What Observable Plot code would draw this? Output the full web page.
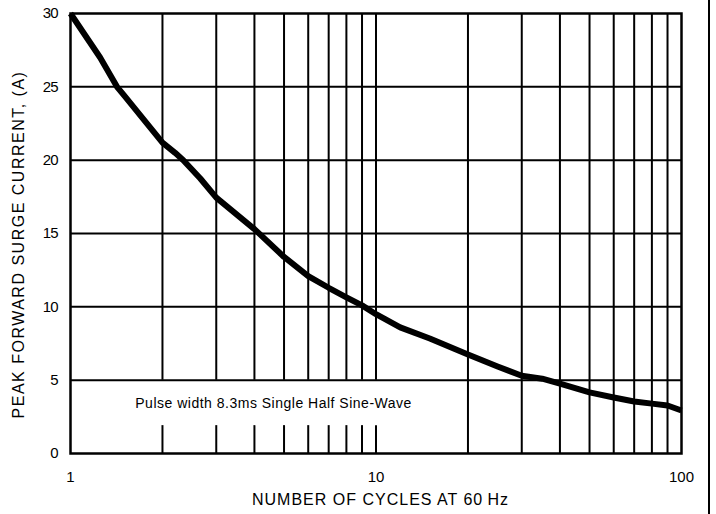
<!DOCTYPE html>
<html>
<head>
<meta charset="utf-8">
<script src="https://cdn.jsdelivr.net/npm/d3@7"></script>
<script src="https://cdn.jsdelivr.net/npm/@observablehq/plot@0.6"></script>
<style>
  body { margin: 0; background: #fff; }
  #wrap { position: relative; width: 716px; height: 514px; }
  #edge { position: absolute; left: 708px; top: 0; width: 2px; height: 514px; background: #000; }
</style>
</head>
<body>
<div id="wrap"><div id="chart"></div><div id="edge"></div></div>
<script>
const cycles  = [1, 1.25, 1.42, 1.5, 2, 2.2, 2.34, 2.66, 3, 4, 5, 6, 7, 8, 9, 10, 12, 15, 20, 25, 30, 35, 40, 50, 60, 70, 80, 90, 100];
const current = [30, 27.0, 25, 24.4, 21.2, 20.5, 20.0, 18.75, 17.45, 15.3, 13.4, 12.1, 11.3, 10.65, 10.1, 9.5, 8.6, 7.84, 6.75, 5.93, 5.3, 5.1, 4.77, 4.17, 3.82, 3.55, 3.4, 3.27, 2.93];

const xTicks = [1, 10, 100];
const yTicks = [0, 5, 10, 15, 20, 25, 30];
const gridPartialX = [2, 3, 4, 5, 6, 7, 8, 9, 10];
const gridFullX = [20, 30, 40, 50, 60, 70, 80, 90];
const gridY = [5, 10, 15, 20, 25];

const xTitle = "NUMBER OF CYCLES AT 60\u2009Hz";
const yTitle = "PEAK FORWARD SURGE CURRENT, (A)";
const note = "Pulse width 8.3ms Single Half Sine-Wave";

const data = cycles.map((c, i) => ({cycles: c, current: current[i]}));

const font = "'Liberation Sans', Arial, sans-serif";

const chart = Plot.plot({
  width: 716,
  height: 514,
  marginLeft: 70,
  marginRight: 35,
  marginTop: 13,
  marginBottom: 61,
  style: {fontFamily: font, color: "#000", background: "#fff", overflow: "visible"},
  x: {type: "log", domain: [1, 100], axis: null},
  y: {domain: [0, 30], axis: null},
  marks: [
    Plot.ruleX(gridFullX, {stroke: "#000", strokeWidth: 2}),
    Plot.ruleX(gridPartialX, {y1: 5, y2: 30, stroke: "#000", strokeWidth: 2}),
    Plot.ruleX(gridPartialX, {y1: 0, y2: 1.9, stroke: "#000", strokeWidth: 2}),
    Plot.ruleY(gridY, {stroke: "#000", strokeWidth: 2}),
    Plot.frame({stroke: "#000", strokeWidth: 2.5}),
    Plot.line(data, {x: "cycles", y: "current", stroke: "#000", strokeWidth: 6, strokeLinejoin: "round", strokeLinecap: "butt"}),
    Plot.text([note], {x: 4.62, y: 3.41, text: d => d, fontSize: 14, fill: "#000", className: "note"}),
    Plot.axisX(xTicks, {label: null, tickSize: 0, tickPadding: 18, fontSize: 15, tickFormat: d => String(d)}),
    Plot.axisY(yTicks, {label: null, tickSize: 0, tickPadding: 13, fontSize: 15, tickFormat: d => String(d)}),
    Plot.text([xTitle], {frameAnchor: "bottom", lineAnchor: "middle", dx: 4.5, dy: 46, text: d => d, fontSize: 16, fill: "#000", className: "xtitle"}),
    Plot.text([yTitle], {frameAnchor: "left", textAnchor: "middle", lineAnchor: "middle", dx: -52, dy: 11, rotate: -90, text: d => d, fontSize: 16, fill: "#000", className: "ytitle"})
  ]
});

d3.select(chart).selectAll('[aria-label="y-axis tick label"] text').attr("letter-spacing", "-1");
d3.select(chart).selectAll('.note text').attr("letter-spacing", "0.5");
d3.select(chart).selectAll('.xtitle text').attr("letter-spacing", "1");
d3.select(chart).selectAll('.ytitle text').attr("letter-spacing", "1.5");
document.getElementById("chart").appendChild(chart);
</script>
</body>
</html>
